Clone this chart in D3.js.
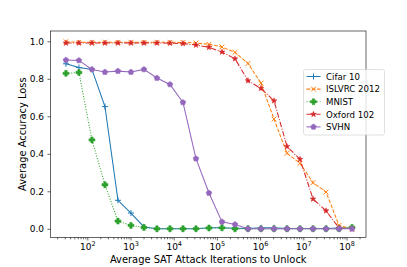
<!DOCTYPE html>
<html><head><meta charset="utf-8">
<script src="https://cdn.jsdelivr.net/npm/d3@7"></script>
<style>body{margin:0;background:#fff}svg{display:block}text{font-family:"DejaVu Sans",sans-serif}</style>
</head><body><svg id="c" width="407" height="267"></svg>
<script>
const iterations = [32,64,128,256,512,1024,2048,4096,8192,16384,32768,65536,131072,262144,524288,1048576,2097152,4194304,8388608,16777216,33554432,67108864,134217728];
const cifar10 = [0.88,0.86,0.85,0.652,0.152,0.084,0.01,0.0,0.0,0.0,0.0,0.005,0.005,0.003,0.002,0.005,0.005,0.002,0.002,0.002,0.002,0.004,0.004];
const islvrc2012 = [0.998,0.995,0.995,0.995,0.995,0.995,0.995,0.995,0.995,0.994,0.991,0.984,0.97,0.941,0.882,0.777,0.585,0.403,0.349,0.246,0.196,0.018,0.0];
const mnist = [0.829,0.834,0.474,0.235,0.041,0.018,0.007,0.0,0.0,0.0,0.0,0.004,0.005,0.0,0.0,0.0,0.0,0.0,0.0,0.0,0.0,0.0,0.007];
const oxford102 = [0.991,0.991,0.991,0.991,0.991,0.991,0.991,0.991,0.99,0.988,0.98,0.968,0.943,0.907,0.79,0.749,0.683,0.439,0.371,0.159,0.096,0.004,0.0];
const svhn = [0.9,0.898,0.85,0.836,0.841,0.836,0.85,0.804,0.77,0.674,0.374,0.191,0.037,0.023,0.0,0.0,0.0,0.0,0.0,0.0,0.0,0.0,0.0];
const seriesNames = ["Cifar 10","ISLVRC 2012","MNIST","Oxford 102","SVHN"];
const yTicks = [0.0,0.2,0.4,0.6,0.8,1.0];
const xTickExps = [2,3,4,5,6,7,8];

const seriesData = [cifar10, islvrc2012, mnist, oxford102, svhn];
const colors = ["#1f77b4","#ff7f0e","#2ca02c","#d62728","#9467bd"];
const dashes = [null,"3.7,1.6","1,1.65","5.5,1.6,1,1.6",null];
const markers = ["plus","x","fplus","star","pent"];

const svg = d3.select("#c");
const L=50.5,R=366,T=31,B=237.5;
const x = d3.scaleLog().domain([Math.pow(10,1.148),Math.pow(10,8.451)]).range([L,R]);
const y = d3.scaleLinear().domain([-0.0465,1.055]).range([B,T]);

// axes
const xAxis = d3.axisBottom(x).tickValues(xTickExps.map(e=>Math.pow(10,e))).tickSize(3).tickFormat(()=>"");
const gx = svg.append("g").attr("transform",`translate(0,${B})`).call(xAxis);
const minor=[];
for(let e=1;e<=8;e++) for(let m=2;m<=9;m++){const v=m*Math.pow(10,e); if(v>=x.domain()[0]&&v<=x.domain()[1]) minor.push(v);}
const gxm = svg.append("g").attr("transform",`translate(0,${B})`).call(d3.axisBottom(x).tickValues(minor).tickSize(1.8).tickFormat(()=>""));
[gx,gxm].forEach(g=>{g.select(".domain").remove();g.selectAll("line").attr("stroke","#000").attr("stroke-width",0.6);});
gx.selectAll(".tick").each(function(d){
  const t=d3.select(this).append("text").attr("y",12).attr("text-anchor","middle").attr("fill","#000").attr("font-size",9);
  t.append("tspan").text("10");
  t.append("tspan").attr("dy",-4).attr("font-size",6.5).text(Math.round(Math.log10(d)));
});
const gy = svg.append("g").attr("transform",`translate(${L},0)`).call(d3.axisLeft(y).tickValues(yTicks).tickSize(3).tickPadding(3.5).tickFormat(d3.format(".1f")));
gy.select(".domain").remove();
gy.selectAll("line").attr("stroke","#000").attr("stroke-width",0.6);
gy.selectAll("text").attr("font-size",9).attr("font-family","DejaVu Sans").attr("fill","#000");

// lines
const line = d3.line().x((d,i)=>x(iterations[i])).y(d=>y(d));
function markerPath(type,s){
  if(type==="plus") return `M${-s},0H${s}M0,${-s}V${s}`;
  if(type==="x") return `M${-s*0.8},${-s*0.8}L${s*0.8},${s*0.8}M${-s*0.8},${s*0.8}L${s*0.8},${-s*0.8}`;
  if(type==="fplus"){const a=s*0.4;return `M${-a},${-s}H${a}V${-a}H${s}V${a}H${a}V${s}H${-a}V${a}H${-s}V${-a}H${-a}Z`;}
  if(type==="star"){let p=[];for(let k=0;k<10;k++){const a=-Math.PI/2+k*Math.PI/5;const r=k%2?s*0.42:s;p.push([r*Math.cos(a),r*Math.sin(a)]);}return "M"+p.join("L")+"Z";}
  if(type==="pent"){let p=[];for(let k=0;k<5;k++){const a=-Math.PI/2+k*2*Math.PI/5;p.push([s*Math.cos(a),s*Math.sin(a)]);}return "M"+p.join("L")+"Z";}
}
const plot = svg.append("g");
seriesData.forEach((vals,si)=>{
  const g=plot.append("g");
  g.append("path").attr("d",line(vals)).attr("fill","none").attr("stroke",colors[si]).attr("stroke-width",1.05)
   .attr("stroke-dasharray",dashes[si]);
  const open = markers[si]==="plus"||markers[si]==="x";
  g.selectAll("path.m").data(vals).enter().append("path").attr("class","m")
   .attr("transform",(d,i)=>`translate(${x(iterations[i])},${y(d)})`)
   .attr("d",markerPath(markers[si],3))
   .attr("fill",open?"none":colors[si]).attr("stroke",colors[si]).attr("stroke-width",open?1:0.5);
});

// frame
svg.append("rect").attr("x",L).attr("y",T).attr("width",R-L).attr("height",B-T).attr("fill","none").attr("stroke","#000").attr("stroke-width",0.6);

// labels
svg.append("text").attr("x",(L+R)/2).attr("y",262.5).attr("text-anchor","middle").attr("font-size",9.9).text("Average SAT Attack Iterations to Unlock");
svg.append("text").attr("transform",`translate(25.5,${(T+B)/2}) rotate(-90)`).attr("text-anchor","middle").attr("font-size",9.9).text("Average Accuracy Loss");

// legend
const lg = svg.append("g");
lg.append("rect").attr("x",303.5).attr("y",69.5).attr("width",81).attr("height",65.5).attr("rx",2)
  .attr("fill","#fff").attr("fill-opacity",0.8).attr("stroke","#ccc").attr("stroke-width",0.6);
seriesNames.forEach((n,i)=>{
  const yy=76.5+i*12.6;
  lg.append("line").attr("x1",306.5).attr("x2",320.5).attr("y1",yy).attr("y2",yy).attr("stroke",colors[i]).attr("stroke-width",1.05).attr("stroke-dasharray",dashes[i]);
  const open = markers[i]==="plus"||markers[i]==="x";
  lg.append("path").attr("transform",`translate(313.5,${yy})`).attr("d",markerPath(markers[i],3))
    .attr("fill",open?"none":colors[i]).attr("stroke",colors[i]).attr("stroke-width",open?1:0.5);
  lg.append("text").attr("x",326).attr("y",yy+3.2).attr("font-size",8.6).text(n);
});
</script></body></html>
